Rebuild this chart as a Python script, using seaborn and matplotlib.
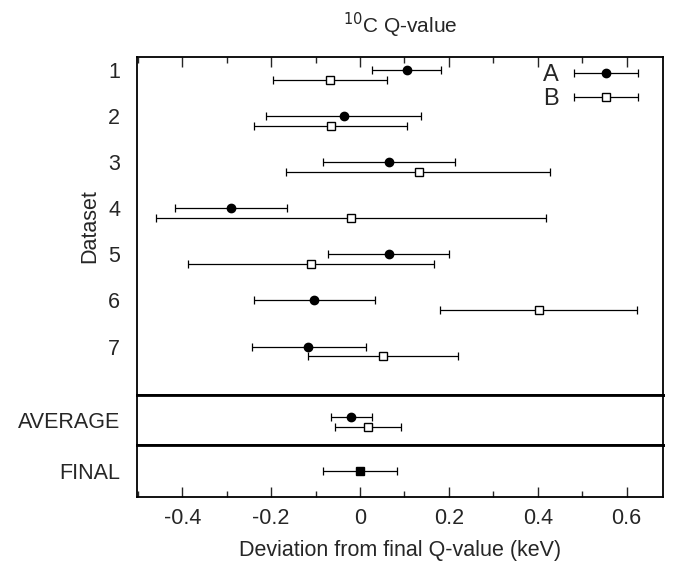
import numpy as np
import pandas as pd
import matplotlib
matplotlib.use("Agg")
import matplotlib.pyplot as plt
import seaborn as sns
from matplotlib.ticker import MultipleLocator
from matplotlib.legend_handler import HandlerErrorbar

sns.set_theme(style="ticks")
plt.rcParams['font.family'] = ['Liberation Sans', 'DejaVu Sans']

# values (keV, deviation from final Q-value)
datasets = [1, 2, 3, 4, 5, 6, 7]
a_val = [0.105, -0.037, 0.066, -0.291, 0.065, -0.103, -0.116]
a_lo = [0.028, -0.211, -0.084, -0.416, -0.072, -0.239, -0.244]
a_hi = [0.183, 0.138, 0.214, -0.165, 0.201, 0.034, 0.013]
b_val = [-0.068, -0.065, 0.132, -0.020, -0.111, 0.402, 0.051]
b_lo = [-0.195, -0.238, -0.166, -0.460, -0.388, 0.181, -0.118]
b_hi = [0.060, 0.106, 0.428, 0.419, 0.166, 0.624, 0.220]

avg_a = [-0.020, -0.065, 0.027]
avg_b = [0.017, -0.056, 0.093]
final = [0.0, -0.083, 0.083]

df = pd.DataFrame({'dataset': datasets, 'a': a_val, 'a_lo': a_lo, 'a_hi': a_hi,
                   'b': b_val, 'b_lo': b_lo, 'b_hi': b_hi})

fig = plt.figure(figsize=(6.78, 5.68), dpi=100)
gs = fig.add_gridspec(3, 1, height_ratios=[338, 50, 52], hspace=0,
                      left=0.202, right=0.978, top=0.8996, bottom=0.125)
ax1 = fig.add_subplot(gs[0])
ax2 = fig.add_subplot(gs[1], sharex=ax1)
ax3 = fig.add_subplot(gs[2], sharex=ax1)

ebkw = dict(color='black', ecolor='black', elinewidth=0.9, capsize=3,
            capthick=0.9, markersize=6, lw=0)

ax1.errorbar(df['a'], df['dataset'],
             xerr=[df['a'] - df['a_lo'], df['a_hi'] - df['a']],
             fmt='o', label='A', **ebkw)
ax1.errorbar(df['b'], df['dataset'] + 0.21,
             xerr=[df['b'] - df['b_lo'], df['b_hi'] - df['b']],
             fmt='s', mfc='white', label='B', **ebkw)

ax2.errorbar([avg_a[0]], [0.44], xerr=[[avg_a[0] - avg_a[1]], [avg_a[2] - avg_a[0]]],
             fmt='o', **ebkw)
ax2.errorbar([avg_b[0]], [0.63], xerr=[[avg_b[0] - avg_b[1]], [avg_b[2] - avg_b[0]]],
             fmt='s', mfc='white', **ebkw)
ax3.errorbar([final[0]], [0.5], xerr=[[final[0] - final[1]], [final[2] - final[0]]],
             fmt='s', **ebkw)

ax1.set_xlim(-0.502, 0.682)
ax1.set_ylim(8.05, 0.72)
ax2.set_ylim(1, 0)
ax3.set_ylim(1, 0)

ax1.set_yticks(datasets)
ax1.set_yticklabels([str(d) for d in datasets])
ax2.set_yticks([0.5])
ax2.set_yticklabels(['AVERAGE'])
ax3.set_yticks([0.5])
ax3.set_yticklabels(['FINAL'])

for ax in (ax1, ax2, ax3):
    ax.tick_params(axis='y', length=0, labelsize=15.5, pad=12)
    for s in ax.spines.values():
        s.set_linewidth(1.3)
        s.set_color('black')

ax3.xaxis.set_major_locator(MultipleLocator(0.2))
ax3.xaxis.set_minor_locator(MultipleLocator(0.1))
ax3.set_xticks(np.arange(-0.4, 0.61, 0.2))
ax3.set_xticklabels(['-0.4', '-0.2', '0', '0.2', '0.4', '0.6'])
ax3.tick_params(axis='x', which='major', direction='in', length=7, width=1,
                labelsize=15.5, pad=8, top=False)
ax3.tick_params(axis='x', which='minor', direction='in', length=4, width=1, top=False)
ax1.tick_params(axis='x', which='both', direction='in', top=True, bottom=False,
                labelbottom=False, width=1)
ax1.tick_params(axis='x', which='major', length=7)
ax1.tick_params(axis='x', which='minor', length=4)
ax2.tick_params(axis='x', which='both', bottom=False, top=False, labelbottom=False)

ax1.spines['bottom'].set_linewidth(2)
ax2.spines['top'].set_linewidth(2)
ax2.spines['bottom'].set_linewidth(2)
ax3.spines['top'].set_linewidth(2)

ax1.set_ylabel('Dataset', fontsize=15.5)
ax1.yaxis.set_label_coords(-0.07, 0.5)
ax3.set_xlabel('Deviation from final Q-value (keV)', fontsize=15.5, labelpad=8)
ax1.set_title('$^{10}$C Q-value', fontsize=15, pad=17)

leg = ax1.legend(loc='upper right', bbox_to_anchor=(0.995, 1.035), frameon=False,
                 markerfirst=False, fontsize=17, handlelength=3.0, handletextpad=0.5,
                 labelspacing=0.1, borderaxespad=0.4,
                 handler_map={type(ax1.containers[0]): HandlerErrorbar(xerr_size=1.35)})

fig.savefig('out.png', dpi=100)
